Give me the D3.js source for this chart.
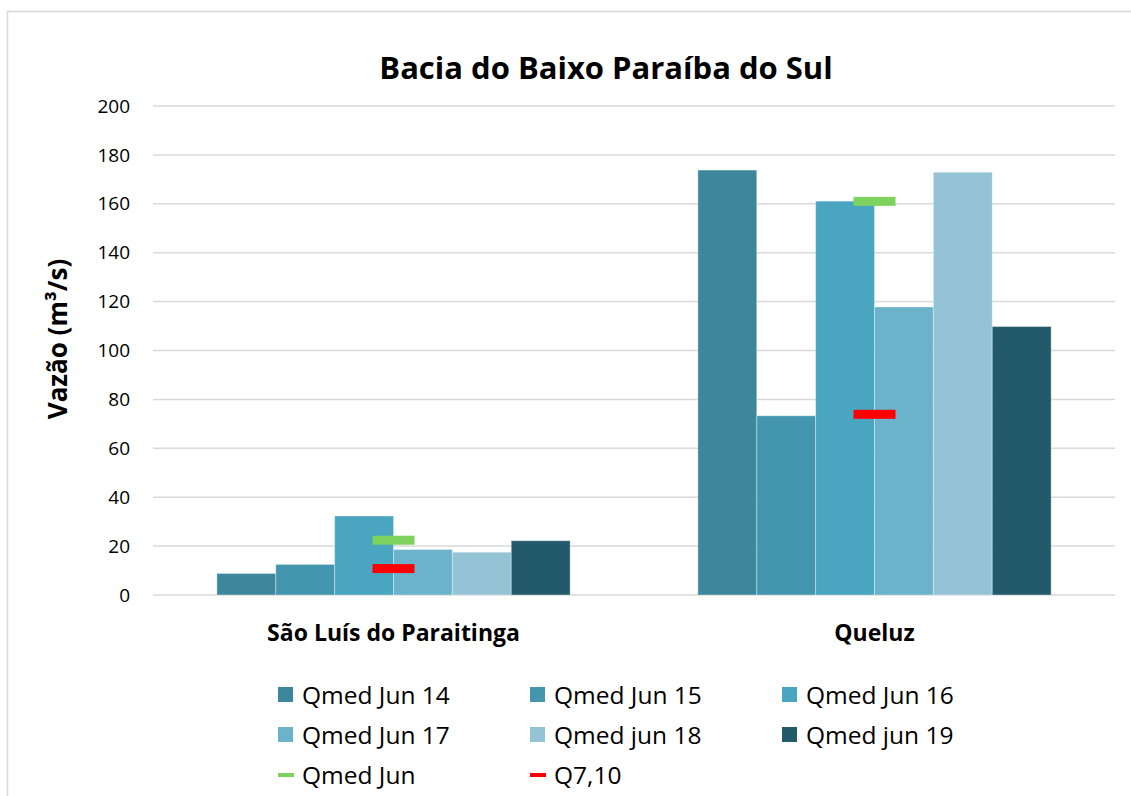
<!DOCTYPE html>
<html>
<head>
<meta charset="utf-8">
<script src="https://cdn.jsdelivr.net/npm/d3@7"></script>
<style>
  body { margin: 0; background: #fff; }
  svg { display: block; font-family: 'Open Sans', 'Noto Sans', sans-serif; }
</style>
</head>
<body>
<script>
const categories = ['São Luís do Paraitinga', 'Queluz']
const seriesNames = ['Qmed Jun 14', 'Qmed Jun 15', 'Qmed Jun 16', 'Qmed Jun 17', 'Qmed jun 18', 'Qmed jun 19']
const seriesColors = ['#3d879c', '#4396ae', '#4aa6c0', '#6ab3cb', '#93c3d5', '#235a6b']
const barValues = [
    [8.8, 12.5, 32.3, 18.6, 17.5, 22.2],
    [173.8, 73.3, 161.1, 117.8, 172.9, 109.8]
]
const qmedJun = [22.4, 161]
const q710 = [10.8, 73.9]
const yTicks = [0, 20, 40, 60, 80, 100, 120, 140, 160, 180, 200]

const width = 1131
const height = 796
const margin = { top: 106, bottom: 201, left: 153, right: 16 }

const svg = d3.select('body')
    .append('svg')
    .attr('width', width)
    .attr('height', height)

// chart frame
svg.append('rect')
    .attr('x', 7.5).attr('y', 11.5)
    .attr('width', 1140).attr('height', 800)
    .attr('fill', 'none')
    .attr('stroke', '#d9d9d9')
    .attr('stroke-width', 1.5)

const x = d3.scaleBand()
    .domain(categories)
    .range([margin.left, width - margin.right])

const xInner = d3.scaleBand()
    .domain(seriesNames)
    .range([0, x.bandwidth()])
    .paddingOuter(1.085)

const y = d3.scaleLinear()
    .domain([0, 200])
    .range([height - margin.bottom, margin.top])

// gridlines
svg.append('g')
    .selectAll('line')
    .data(yTicks)
    .join('line')
    .attr('x1', margin.left)
    .attr('x2', width - margin.right)
    .attr('y1', d => y(d))
    .attr('y2', d => y(d))
    .attr('stroke', '#d9d9d9')
    .attr('stroke-width', 1.5)

// Y-Axis labels
svg.append('g')
    .selectAll('text')
    .data(yTicks)
    .join('text')
    .attr('x', 130)
    .attr('y', d => y(d))
    .attr('dy', '0.35em')
    .attr('text-anchor', 'end')
    .style('font-size', '19px')
    .style('fill', '#000')
    .text(d => d)

// bars
const groups = svg.append('g')
    .selectAll('g')
    .data(categories)
    .join('g')
    .attr('transform', d => `translate(${x(d)},0)`)

groups.selectAll('rect')
    .data((c, i) => barValues[i].map((v, j) => ({ name: seriesNames[j], value: v, color: seriesColors[j] })))
    .join('rect')
    .attr('x', d => xInner(d.name))
    .attr('y', d => y(d.value))
    .attr('width', xInner.bandwidth())
    .attr('height', d => y(0) - y(d.value))
    .attr('fill', d => d.color)
    .attr('stroke', 'rgba(255,255,255,0.35)')
    .attr('stroke-width', 1)

// dash markers
const markerW = 42
const markerH = 9
function drawMarkers(values, color) {
    svg.append('g')
        .selectAll('rect')
        .data(values)
        .join('rect')
        .attr('x', (d, i) => x(categories[i]) + x.bandwidth() / 2 - markerW / 2)
        .attr('y', d => y(d) - markerH / 2)
        .attr('width', markerW)
        .attr('height', markerH)
        .attr('fill', color)
}
drawMarkers(qmedJun, '#7ed35f')
drawMarkers(q710, '#ff0000')

// category labels
svg.append('g')
    .selectAll('text')
    .data(categories)
    .join('text')
    .attr('x', d => x(d) + x.bandwidth() / 2)
    .attr('y', 633)
    .attr('dy', '0.35em')
    .attr('text-anchor', 'middle')
    .style('font-size', '23px')
    .style('font-weight', 'bold')
    .text(d => d)

// title
svg.append('text')
    .attr('x', 606)
    .attr('y', 68)
    .attr('dy', '0.35em')
    .attr('text-anchor', 'middle')
    .style('font-size', '31px')
    .style('font-weight', 'bold')
    .text('Bacia do Baixo Paraíba do Sul')

// y label
svg.append('text')
    .attr('transform', 'translate(58,339) rotate(-90)')
    .attr('dy', '0.35em')
    .attr('text-anchor', 'middle')
    .style('font-size', '26px')
    .style('font-weight', 'bold')
    .text('Vazão (m³/s)')

// legend
const legendItems = seriesNames.map((n, i) => ({ name: n, color: seriesColors[i], type: 'box' }))
    .concat([{ name: 'Qmed Jun', color: '#7ed35f', type: 'line' }, { name: 'Q7,10', color: '#ff0000', type: 'line' }])
const colX = [278, 530, 782]
const rowY = [695, 735, 775]

const legend = svg.append('g')
    .selectAll('g')
    .data(legendItems)
    .join('g')
    .attr('transform', (d, i) => `translate(${colX[i % 3]},${rowY[Math.floor(i / 3)]})`)

legend.filter(d => d.type === 'box')
    .append('rect')
    .attr('x', 0).attr('y', -8)
    .attr('width', 15).attr('height', 15)
    .attr('fill', d => d.color)

legend.filter(d => d.type === 'line')
    .append('rect')
    .attr('x', 0).attr('y', -2)
    .attr('width', 16).attr('height', 4)
    .attr('fill', d => d.color)

legend.append('text')
    .attr('x', 24)
    .attr('y', 0)
    .attr('dy', '0.35em')
    .style('font-size', '24.5px')
    .text(d => d.name)
</script>
</body>
</html>
